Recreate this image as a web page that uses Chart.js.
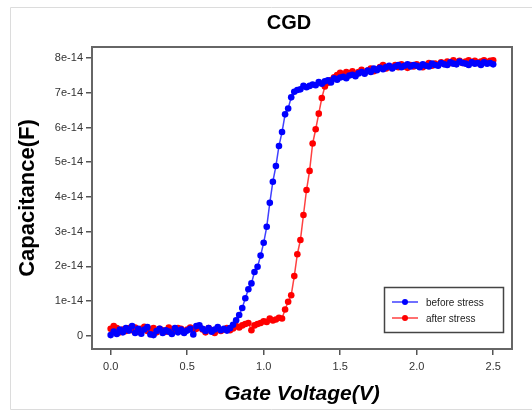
<!DOCTYPE html>
<html>
<head>
<meta charset="utf-8">
<script src="https://cdn.jsdelivr.net/npm/chart.js@4.4.1/dist/chart.umd.min.js"></script>
<style>
  html, body { margin: 0; padding: 0; background: #fff; }
  #wrap { width: 532px; height: 412px; }
</style>
</head>
<body>
<div id="wrap"><canvas id="cgd_chart" width="532" height="412"></canvas></div>
<script>
// gate voltage sweep (V)
const voltage = [
  0.00, 0.02, 0.04, 0.06, 0.08, 0.10, 0.12, 0.14, 0.16, 0.18,
  0.20, 0.22, 0.24, 0.26, 0.28, 0.30, 0.32, 0.34, 0.36, 0.38,
  0.40, 0.42, 0.44, 0.46, 0.48, 0.50, 0.52, 0.54, 0.56, 0.58,
  0.60, 0.62, 0.64, 0.66, 0.68, 0.70, 0.72, 0.74, 0.76, 0.78,
  0.80, 0.82, 0.84, 0.86, 0.88, 0.90, 0.92, 0.94, 0.96, 0.98,
  1.00, 1.02, 1.04, 1.06, 1.08, 1.10, 1.12, 1.14, 1.16, 1.18,
  1.20, 1.22, 1.24, 1.26, 1.28, 1.30, 1.32, 1.34, 1.36, 1.38,
  1.40, 1.42, 1.44, 1.46, 1.48, 1.50, 1.52, 1.54, 1.56, 1.58,
  1.60, 1.62, 1.64, 1.66, 1.68, 1.70, 1.72, 1.74, 1.76, 1.78,
  1.80, 1.82, 1.84, 1.86, 1.88, 1.90, 1.92, 1.94, 1.96, 1.98,
  2.00, 2.02, 2.04, 2.06, 2.08, 2.10, 2.12, 2.14, 2.16, 2.18,
  2.20, 2.22, 2.24, 2.26, 2.28, 2.30, 2.32, 2.34, 2.36, 2.38,
  2.40, 2.42, 2.44, 2.46, 2.48, 2.50
];

// capacitance in units of 1e-14 F
const before_stress = [
  0.02, 0.12, 0.05, 0.18, 0.10, 0.22, 0.15, 0.28, 0.08, 0.20,
  0.06, 0.18, 0.25, 0.04, 0.02, 0.14, 0.20, 0.08, 0.16, 0.12,
  0.05, 0.22, 0.10, 0.18, 0.08, 0.15, 0.20, 0.04, 0.28, 0.30,
  0.20, 0.14, 0.22, 0.12, 0.18, 0.25, 0.16, 0.20, 0.15, 0.22,
  0.32, 0.45, 0.60, 0.80, 1.08, 1.34, 1.51, 1.84, 1.99, 2.31,
  2.68, 3.14, 3.83, 4.44, 4.89, 5.47, 5.87, 6.38, 6.55, 6.87,
  7.03, 7.08, 7.10, 7.20, 7.16, 7.20, 7.24, 7.22, 7.31, 7.26,
  7.33, 7.36, 7.30, 7.42, 7.38, 7.44, 7.46, 7.42, 7.50, 7.52,
  7.48, 7.56, 7.60, 7.55, 7.64, 7.60, 7.70, 7.65, 7.72, 7.68,
  7.74, 7.78, 7.70, 7.76, 7.80, 7.74, 7.78, 7.82, 7.76, 7.80,
  7.78, 7.74, 7.82, 7.78, 7.76, 7.84, 7.80, 7.78, 7.86, 7.82,
  7.80, 7.88, 7.84, 7.82, 7.90, 7.86, 7.84, 7.80, 7.88, 7.84,
  7.86, 7.80, 7.88, 7.84, 7.86, 7.82
];

const after_stress = [
  0.20, 0.28, 0.22, 0.10, 0.18, 0.14, 0.22, 0.16, 0.24, 0.12,
  0.20, 0.26, 0.14, 0.18, 0.22, 0.10, 0.20, 0.16, 0.12, 0.24,
  0.18, 0.14, 0.22, 0.20, 0.12, 0.18, 0.24, 0.15, 0.20, 0.26,
  0.18, 0.10, 0.22, 0.16, 0.08, 0.20, 0.14, 0.18, 0.22, 0.16,
  0.21, 0.28, 0.24, 0.30, 0.34, 0.37, 0.16, 0.30, 0.34, 0.37,
  0.42, 0.40, 0.50, 0.44, 0.47, 0.52, 0.50, 0.76, 0.98, 1.17,
  1.72, 2.35, 2.76, 3.48, 4.20, 4.75, 5.54, 5.95, 6.40, 6.85,
  7.18, 7.29, 7.37, 7.45, 7.51, 7.58, 7.52, 7.60, 7.56, 7.62,
  7.54, 7.60, 7.66, 7.58, 7.64, 7.70, 7.62, 7.68, 7.74, 7.80,
  7.70, 7.76, 7.72, 7.80, 7.74, 7.82, 7.76, 7.72, 7.80, 7.76,
  7.82, 7.78, 7.74, 7.80, 7.86, 7.78, 7.84, 7.80, 7.88, 7.84,
  7.90, 7.86, 7.94, 7.88, 7.92, 7.86, 7.90, 7.94, 7.88, 7.92,
  7.86, 7.90, 7.94, 7.88, 7.92, 7.94
];

const x_ticks = [0.0, 0.5, 1.0, 1.5, 2.0, 2.5];
const y_ticks = [0, 1, 2, 3, 4, 5, 6, 7, 8];

const FONT = "'Liberation Sans', Arial, sans-serif";

function toPoints(xs, ys) {
    var pts = [];
    for (var i = 0; i < xs.length; i++) {
        pts.push({ x: xs[i], y: ys[i] });
    }
    return pts;
}

// frame, legend box and titles
const decorations = {
    id: 'decorations',
    afterDraw(chart) {
        const ctx = chart.ctx;
        const a = chart.chartArea;
        ctx.save();

        // faint outer border of the picture
        ctx.strokeStyle = '#dcdcdc';
        ctx.lineWidth = 1;
        ctx.beginPath();
        ctx.moveTo(532, 7.5); ctx.lineTo(10.5, 7.5); ctx.lineTo(10.5, 409.5); ctx.lineTo(532, 409.5);
        ctx.stroke();

        // plot frame
        ctx.strokeStyle = '#666';
        ctx.lineWidth = 2;
        ctx.strokeRect(a.left, a.top, a.right - a.left, a.bottom - a.top);

        // legend
        ctx.strokeStyle = '#444';
        ctx.lineWidth = 1.5;
        ctx.fillStyle = '#fff';
        ctx.fillRect(384.5, 287.5, 119, 45);
        ctx.strokeRect(384.5, 287.5, 119, 45);
        const rows = [302, 318];
        chart.data.datasets.forEach(function (ds, i) {
            const y = rows[i];
            ctx.strokeStyle = ds.borderColor;
            ctx.lineWidth = 1.5;
            ctx.beginPath();
            ctx.moveTo(392, y); ctx.lineTo(418, y);
            ctx.stroke();
            ctx.fillStyle = ds.pointBackgroundColor;
            ctx.beginPath();
            ctx.arc(405, y, 3, 0, Math.PI * 2);
            ctx.fill();
            ctx.fillStyle = '#222';
            ctx.font = '10px ' + FONT;
            ctx.textAlign = 'left';
            ctx.textBaseline = 'middle';
            ctx.fillText(ds.label, 426, y + 1);
        });

        // titles
        ctx.fillStyle = '#000';
        ctx.textAlign = 'center';
        ctx.textBaseline = 'middle';
        ctx.font = 'bold 20px ' + FONT;
        ctx.fillText('CGD', 289, 23);

        ctx.font = 'italic bold 21px ' + FONT;
        ctx.fillText('Gate Voltage(V)', 302, 394);

        ctx.save();
        ctx.translate(28, (a.top + a.bottom) / 2);
        ctx.rotate(-Math.PI / 2);
        ctx.font = 'bold 22px ' + FONT;
        ctx.fillText('Capacitance(F)', 0, 0);
        ctx.restore();

        ctx.restore();
    }
};

const tickGrid = {
    display: true,
    drawOnChartArea: false,
    drawTicks: true,
    tickLength: 6,
    color: '#555',
    lineWidth: 1.5
};

var canvas = document.getElementById('cgd_chart');
var setup = {
    type: 'line',
    data: {
        datasets: [
            {
                label: 'before stress',
                data: toPoints(voltage, before_stress),
                borderColor: 'rgba(0, 0, 255, 0.75)',
                pointBackgroundColor: '#0000ff',
                pointBorderWidth: 0,
                pointRadius: 3.3,
                borderWidth: 1.5,
                tension: 0
            },
            {
                label: 'after stress',
                data: toPoints(voltage, after_stress),
                borderColor: 'rgba(255, 0, 0, 0.75)',
                pointBackgroundColor: '#ff0000',
                pointBorderWidth: 0,
                pointRadius: 3.3,
                borderWidth: 1.5,
                tension: 0
            }
        ]
    },
    options: {
        responsive: false,
        animation: false,
        layout: { padding: { top: 47, right: 20, left: 0, bottom: 0 } },
        plugins: {
            legend: { display: false },
            title: { display: false },
            tooltip: { enabled: false }
        },
        scales: {
            x: {
                type: 'linear',
                min: -0.122,
                max: 2.623,
                afterBuildTicks: function (scale) {
                    scale.ticks = x_ticks.map(function (v) { return { value: v }; });
                },
                afterFit: function (scale) { scale.height = 63; },
                ticks: {
                    padding: 5,
                    color: '#333',
                    font: { family: FONT, size: 11 },
                    callback: function (v) { return v.toFixed(1); }
                },
                grid: tickGrid,
                border: { display: false }
            },
            y: {
                min: -0.38,
                max: 8.32,
                afterBuildTicks: function (scale) {
                    scale.ticks = y_ticks.map(function (v) { return { value: v }; });
                },
                afterFit: function (scale) { scale.width = 92; },
                ticks: {
                    padding: 3,
                    color: '#333',
                    font: { family: FONT, size: 11 },
                    callback: function (v) { return v === 0 ? '0' : v + 'e-14'; }
                },
                grid: tickGrid,
                border: { display: false }
            }
        }
    },
    plugins: [decorations]
};
var chart = new Chart(canvas, setup);
</script>
</body>
</html>
